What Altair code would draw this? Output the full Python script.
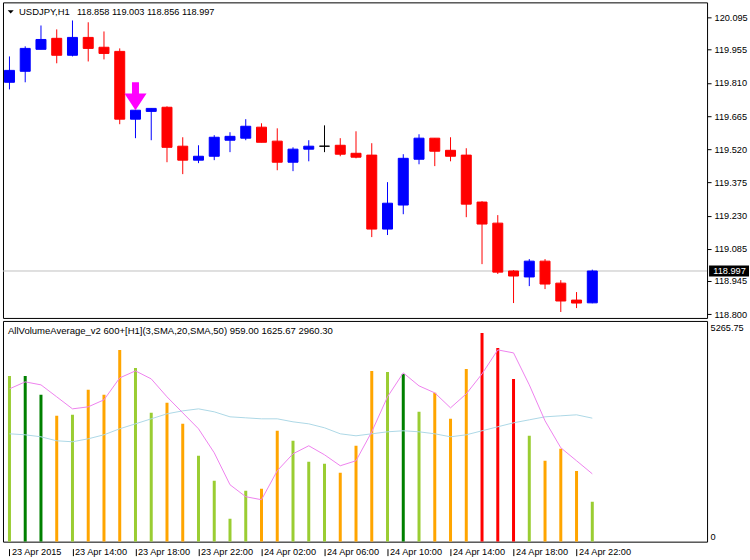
import json
import altair as alt
import pandas as pd

# ---------------- data ----------------
symbol = "USDJPY"
timeframe = "H1"
time_labels = ["23 Apr 2015", "23 Apr 14:00", "23 Apr 18:00", "23 Apr 22:00",
               "24 Apr 02:00", "24 Apr 06:00", "24 Apr 10:00", "24 Apr 14:00",
               "24 Apr 18:00", "24 Apr 22:00"]
label_step = 4

opens = [119.821, 119.869, 119.965, 120.013, 119.939, 120.017, 119.974, 119.956, 119.660, 119.694,
         119.712, 119.542, 119.481, 119.498, 119.568, 119.577, 119.625, 119.564, 119.472, 119.529,
         119.542, 119.546, 119.511, 119.503, 119.180, 119.285, 119.485, 119.577, 119.524, 119.503,
         119.298, 119.206, 118.997, 118.971, 119.040, 118.944, 118.870, 118.858]
highs = [119.934, 119.978, 120.069, 120.052, 120.091, 120.083, 120.043, 119.969, 119.699, 119.707,
         119.716, 119.581, 119.546, 119.590, 119.603, 119.660, 119.642, 119.620, 119.537, 119.568,
         119.633, 119.577, 119.607, 119.555, 119.385, 119.507, 119.594, 119.577, 119.581, 119.533,
         119.302, 119.241, 119.001, 119.049, 119.049, 118.957, 118.905, 119.003]
lows = [119.790, 119.821, 119.965, 119.904, 119.934, 119.912, 119.921, 119.638, 119.577, 119.568,
        119.472, 119.420, 119.468, 119.481, 119.516, 119.568, 119.559, 119.437, 119.433, 119.476,
        119.516, 119.498, 119.489, 119.145, 119.154, 119.245, 119.463, 119.455, 119.476, 119.232,
        119.027, 118.984, 118.857, 118.931, 118.918, 118.818, 118.835, 118.856]
closes = [119.873, 119.969, 120.008, 119.939, 120.017, 119.969, 119.947, 119.660, 119.699, 119.707,
          119.537, 119.481, 119.498, 119.581, 119.585, 119.629, 119.559, 119.472, 119.529, 119.542,
          119.542, 119.507, 119.494, 119.180, 119.293, 119.489, 119.577, 119.520, 119.498, 119.289,
          119.202, 118.992, 118.975, 119.040, 118.940, 118.866, 118.857, 118.997]

volumes = [3973, 3973, 3518, 3016, 3040, 3638, 3518, 4596, 4165, 3088,
           3327, 2824, 2058, 1460, 551, 1221, 1269, 2657, 2417, 1915,
           1867, 1652, 2298, 4093, 4069, 4021, 3112, 3566, 2944, 4141,
           5002, 4643, 3901, 2537, 1939, 2225, 1693, 959]
volume_class = ["g", "G", "G", "o", "g", "o", "o", "o", "g", "g",
                "o", "o", "g", "g", "g", "g", "o", "o", "g", "g",
                "g", "o", "o", "o", "g", "G", "g", "o", "o", "o",
                "r", "r", "r", "g", "o", "o", "o", "g"]
sma3 = [3662, 3830, 3758, 3471, 3183, 3231, 3399, 3925, 4093, 3901,
        3471, 3088, 2705, 2130, 1364, 1077, 1005, 1699, 2106, 2298,
        2082, 1819, 1939, 2633, 3471, 4045, 3734, 3566, 3207, 3542,
        4021, 4596, 4524, 3758, 2896, 2250, 1939, 1625.67]
sma20 = [2585, 2561, 2513, 2417, 2394, 2465, 2561, 2705, 2824, 2944,
         3064, 3135, 3183, 3112, 2992, 2968, 2944, 2944, 2872, 2824,
         2729, 2585, 2537, 2585, 2633, 2657, 2633, 2585, 2513, 2561,
         2657, 2753, 2848, 2920, 2992, 3016, 3040, 2960.30]

price_ticks = [120.095, 119.955, 119.810, 119.665, 119.520, 119.375, 119.230, 119.085, 118.945, 118.800]
volume_ticks = [0, 5265.75]
current_price = closes[-1]
signal_bar = 8
signal_price = 119.760

candle_palette = {"up": "#0000FF", "down": "#FF0000", "flat": "#000000"}
volume_palette = {"g": "#9ACD32", "G": "#008000", "o": "#FFA500", "r": "#FF0000"}

n = len(opens)
bars = list(range(n))
dirs = ["up" if c > o else ("down" if c < o else "flat") for o, c in zip(opens, closes)]
df = pd.DataFrame({"bar": bars, "open": opens, "high": highs, "low": lows, "close": closes,
                   "dir": dirs, "volume": volumes, "vclass": volume_class,
                   "sma3": sma3, "sma20": sma20})
df["ccol"] = df["dir"].map(candle_palette)
df["vcol"] = df["vclass"].map(volume_palette)

FONT = "Liberation Sans"
FS = 9.2
W = 705

x_scale = alt.Scale(domain=[-0.09375, 43.96875], nice=False, zero=False)
price_scale = alt.Scale(domain=[118.792, 120.170], nice=False, zero=False)
vol_scale = alt.Scale(domain=[0, 5290], nice=False, zero=False)

price_axis = alt.Axis(orient="right", values=price_ticks, format=".3f", grid=False, domain=False,
                      tickSize=4, tickOffset=-2, labelPadding=3, tickColor="black", title=None)

def xq(axis=None):
    return alt.X("bar:Q", scale=x_scale, axis=axis, title=None)

def yp(field):
    return alt.Y(field, type="quantitative", scale=price_scale, axis=price_axis, title=None)

base = alt.Chart(df)

price_line = alt.Chart(pd.DataFrame({"price": [current_price]})).mark_rule(
    color="#C0C0C0", strokeWidth=1).encode(y=yp("price"))

wicks = base.mark_rule(strokeWidth=1, clip=True).encode(
    x=xq(), y=yp("low"), y2="high:Q",
    color=alt.Color("ccol:N", scale=None, legend=None))

bodies = base.mark_bar(width=10, strokeWidth=1, clip=True, opacity=1).encode(
    x=xq(), y=yp("open"), y2="close:Q",
    color=alt.Color("ccol:N", scale=None, legend=None),
    stroke=alt.Stroke("ccol:N", scale=None, legend=None))

arrow_path = "M-0.25,-1 L0.25,-1 L0.25,-0.2 L0.79,-0.2 L0,1 L-0.79,-0.2 L-0.25,-0.2 Z"
arrow = alt.Chart(pd.DataFrame({"bar": [signal_bar], "price": [signal_price]})).mark_point(
    shape=arrow_path, size=784, filled=True, color="#FF00FF", opacity=1, strokeWidth=0).encode(
    x=xq(), y=yp("price"))

header_name = alt.Chart(pd.DataFrame({"t": [f"{symbol},{timeframe}"]})).mark_text(
    align="left", baseline="alphabetic", font=FONT, fontSize=9.5, color="black").encode(
    x=alt.value(16), y=alt.value(13), text="t:N")
header_vals_text = f"{opens[-1]:.3f} {highs[-1]:.3f} {lows[-1]:.3f} {closes[-1]:.3f}"
header_vals = alt.Chart(pd.DataFrame({"t": [header_vals_text]})).mark_text(
    align="left", baseline="alphabetic", font=FONT, fontSize=9.2, color="black").encode(
    x=alt.value(74), y=alt.value(13), text="t:N")

tri = alt.Chart(pd.DataFrame({"t": ["menu"]})).mark_point(
    shape="M-1,-0.55 L1,-0.55 L0,0.55 Z", size=36, filled=True, color="black", opacity=1).encode(
    x=alt.value(7.7), y=alt.value(9.5))

price_box = alt.Chart(pd.DataFrame({"price": [current_price]})).mark_point(
    shape="M-1,-0.28 L1,-0.28 L1,0.28 L-1,0.28 Z", size=1600, filled=True, color="black",
    opacity=1, clip=False).encode(x=alt.value(727), y=yp("price"))
price_box_text = alt.Chart(pd.DataFrame({"price": [current_price]})).mark_text(
    align="center", baseline="middle", font=FONT, fontSize=FS, color="white", clip=False).encode(
    x=alt.value(727.5), y=yp("price"), text=alt.Text("price:Q", format=".3f"))

main = alt.layer(price_line, wicks, bodies, arrow, header_name, header_vals, tri,
                 price_box, price_box_text).properties(width=W, height=316)

# ---------------- volume panel ----------------
label_expr = json.dumps(time_labels) + f"[round(datum.value / {label_step})]"
x_axis = alt.Axis(values=list(range(0, n, label_step)), labelExpr=label_expr, grid=False, domain=False,
                  labelAlign="left", labelBaseline="top", labelOffset=2, tickSize=14,
                  tickDash=[0, 7, 7], labelPadding=-8, tickColor="black", title=None)
vol_axis = alt.Axis(orient="right", values=volume_ticks, format=".2~f", grid=False, domain=False,
                    ticks=False, labelPadding=3, title=None,
                    labelOffset={"condition": {"test": "datum.value > 1000", "value": 6}, "value": -5})

vbars = base.mark_bar(width=3, clip=True, opacity=1).encode(
    x=xq(x_axis),
    y=alt.Y("volume:Q", scale=vol_scale, axis=vol_axis, title=None),
    color=alt.Color("vcol:N", scale=None, legend=None))
line20 = base.mark_line(color="#ADD8E6", strokeWidth=1, clip=True).encode(
    x=xq(x_axis), y=alt.Y("sma20:Q", scale=vol_scale, axis=vol_axis, title=None))
line3 = base.mark_line(color="#EE82EE", strokeWidth=1, clip=True).encode(
    x=xq(x_axis), y=alt.Y("sma3:Q", scale=vol_scale, axis=vol_axis, title=None))

vol_header_text = (f"AllVolumeAverage_v2 600+[{timeframe}](3,SMA,20,SMA,50) "
                   f"{volumes[-1]:.2f} {sma3[-1]:.2f} {sma20[-1]:.2f}")
vol_header = alt.Chart(pd.DataFrame({"t": [vol_header_text]})).mark_text(
    align="left", baseline="alphabetic", font=FONT, fontSize=9.55, color="black").encode(
    x=alt.value(5), y=alt.value(13), text="t:N")

sub = alt.layer(vbars, line20, line3, vol_header).properties(width=W, height=221)

chart = alt.vconcat(main, sub, spacing=3, bounds="flush").properties(
    padding={"left": 2, "top": 1, "right": 0, "bottom": 0},
    background="white"
).configure_view(stroke="black", strokeWidth=1).configure_axis(
    labelFont=FONT, labelFontSize=FS, labelColor="black")

chart.save("out.html", embed_options={"renderer": "svg", "actions": False})
